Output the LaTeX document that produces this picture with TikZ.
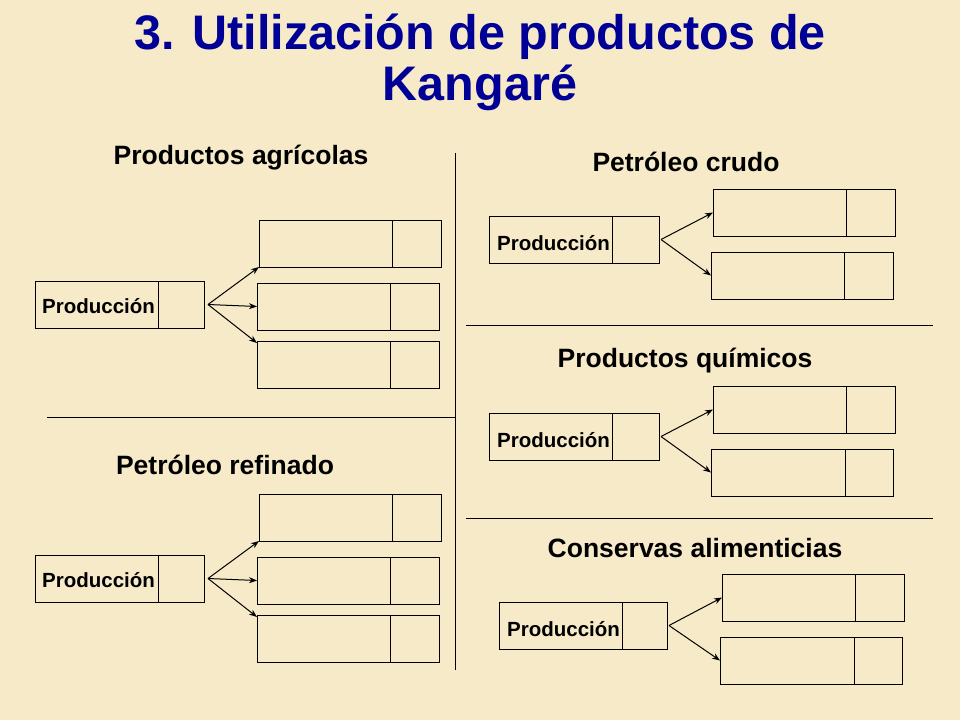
\documentclass[tikz,border=0pt]{standalone}
\usepackage{fontspec}
\setmainfont{Liberation Sans}
\usetikzlibrary{arrows.meta}

\definecolor{paper}{RGB}{246,234,200}
\definecolor{titleblue}{RGB}{0,0,150}

% split box: name, left x, top y, right x, divider x
\newcommand{\splitbox}[5]{%
  \node[box, minimum width={(#4-#2)*1pt}, anchor=north west] (#1) at (#2,#3) {};
  \draw[line width=1pt] (#5,#3) -- (#5,#3+47);}

\begin{document}
\begin{tikzpicture}[x=1pt,y=-1pt,
    box/.style={draw, line width=1pt, rectangle, inner sep=0pt, outer sep=0pt, minimum height=47pt},
    arr/.style={-{Stealth[length=8pt,width=6pt]}, line width=1pt},
    heading/.style={font=\fontsize{26.5}{30}\selectfont\bfseries},
    prod/.style={font=\fontsize{20.5}{24}\selectfont\bfseries, anchor=west, inner sep=0pt}]
  \fill[paper] (0,0) rectangle (960,720);
  \useasboundingbox (0,0) rectangle (960,720);

  % title
  \node[font=\fontsize{48.5}{51}\selectfont\bfseries, text=titleblue, align=center] (title) at (480,62)
    {3. Utilización de productos de\\Kangaré};

  % separators
  \draw[line width=1pt] (455,153) -- (455,670);
  \draw[line width=1pt] (47,417) -- (455,417);
  \draw[line width=1pt] (466,325) -- (933,325);
  \draw[line width=1pt] (466,518) -- (933,518);

  % headings
  \node[heading] (hagr) at (241,158) {Productos agrícolas};
  \node[heading] (href) at (225,465) {Petróleo refinado};
  \node[heading] (hcru) at (686,162) {Petróleo crudo};
  \node[heading] (hqui) at (685,361) {Productos químicos};
  \node[heading] (hcon) at (695,548) {Conservas alimenticias};

  % productos agricolas
  \splitbox{pa}{35}{281}{204}{158}
  \node[prod] (pat) at (42,306) {Producción};
  \splitbox{a1}{259}{220}{441}{392}
  \splitbox{a2}{257}{283}{439}{390}
  \splitbox{a3}{257}{341}{439}{390}
  \draw[arr] ([xshift=4pt]pa.east) -- (a1.south west);
  \draw[arr] ([xshift=4pt]pa.east) -- (a2.west);
  \draw[arr] ([xshift=4pt]pa.east) -- ([yshift=-2pt]a3.north west);

  % petroleo refinado
  \splitbox{pr}{35}{555}{204}{158}
  \node[prod] (prt) at (42,580) {Producción};
  \splitbox{b1}{259}{494}{441}{392}
  \splitbox{b2}{257}{557}{439}{390}
  \splitbox{b3}{257}{615}{439}{390}
  \draw[arr] ([xshift=4pt]pr.east) -- (b1.south west);
  \draw[arr] ([xshift=4pt]pr.east) -- (b2.west);
  \draw[arr] ([xshift=4pt]pr.east) -- ([yshift=-2pt]b3.north west);

  % petroleo crudo
  \splitbox{pc}{489}{216}{659}{612}
  \node[prod] (pct) at (497,243) {Producción};
  \splitbox{c1}{713}{189}{895}{846}
  \splitbox{c2}{711}{252}{893}{844}
  \draw[arr] ([xshift=2pt]pc.east) -- (c1.west);
  \draw[arr] ([xshift=2pt]pc.east) -- (c2.west);

  % productos quimicos
  \splitbox{pq}{489}{413}{659}{612}
  \node[prod] (pqt) at (497,440) {Producción};
  \splitbox{d1}{713}{386}{895}{846}
  \splitbox{d2}{711}{449}{893}{845}
  \draw[arr] ([xshift=2pt]pq.east) -- (d1.west);
  \draw[arr] ([xshift=2pt]pq.east) -- (d2.west);

  % conservas alimenticias
  \splitbox{pk}{499}{602}{667}{622}
  \node[prod] (pkt) at (507,629) {Producción};
  \splitbox{e1}{722}{574}{904}{855}
  \splitbox{e2}{720}{637}{902}{854}
  \draw[arr] ([xshift=2pt]pk.east) -- (e1.west);
  \draw[arr] ([xshift=2pt]pk.east) -- (e2.west);
\end{tikzpicture}
\end{document}
